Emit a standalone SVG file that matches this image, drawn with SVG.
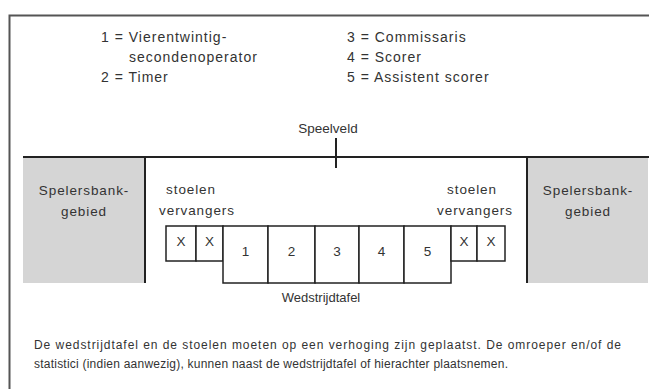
<svg xmlns="http://www.w3.org/2000/svg" width="649" height="389" viewBox="0 0 649 389">
<style>
text{font-family:"Liberation Sans",Arial,sans-serif;fill:#333;}
.t{font-size:14px;letter-spacing:1px;}
.s{font-size:13.5px;letter-spacing:0.9px;}
.n{font-size:13.5px;text-anchor:middle;}
.m{text-anchor:middle;}
.nt{font-size:12px;}
.ln{stroke:#222;stroke-width:2;fill:none;}
.box{stroke:#222;stroke-width:1.5;fill:#fff;}
.bank{fill:#d5d5d5;}
</style>
<rect x="0" y="0" width="649" height="389" fill="#fff"/>
<g id="frame">
<path d="M9.5 389 V15.5 H649" stroke="#555" stroke-width="2" fill="none"/>
</g>
<g id="legend">
<text class="t" x="101" y="42">1 = Vierentwintig-</text>
<text class="t" x="129" y="62">secondenoperator</text>
<text class="t" x="101" y="82">2 = Timer</text>
<text class="t" x="347" y="42">3 = Commissaris</text>
<text class="t" x="347" y="62">4 = Scorer</text>
<text class="t" x="347" y="82">5 = Assistent scorer</text>
</g>
<g id="speelveld">
<text class="m" x="328" y="133" style="font-size:13.5px">Speelveld</text>
</g>
<g id="bank-left">
<rect class="bank" x="23" y="158" width="122" height="125"/>
<text class="s m" x="84" y="195">Spelersbank-</text>
<text class="s m" x="84" y="216">gebied</text>
</g>
<g id="bank-right">
<rect class="bank" x="527" y="158" width="121" height="125"/>
<text class="s m" x="588" y="195">Spelersbank-</text>
<text class="s m" x="588" y="216">gebied</text>
</g>
<g id="connectors">
<line class="ln" x1="23" y1="157" x2="649" y2="157"/>
<line class="ln" x1="145" y1="157" x2="145" y2="283"/>
<line class="ln" x1="527" y1="157" x2="527" y2="283"/>
<line class="ln" x1="336" y1="138" x2="336" y2="168" stroke-width="1.5"/>
</g>
<g id="stoelen-left">
<text class="s m" x="191" y="194">stoelen</text>
<text class="s m" x="197" y="215">vervangers</text>
</g>
<g id="stoelen-right">
<text class="s m" x="472" y="194">stoelen</text>
<text class="s m" x="475" y="215">vervangers</text>
</g>
<g id="chair-l1"><rect class="box" x="166" y="226" width="30" height="35"/><text class="n" x="181" y="246">X</text></g>
<g id="chair-l2"><rect class="box" x="196" y="226" width="27" height="35"/><text class="n" x="209.5" y="246">X</text></g>
<g id="seat-1"><rect class="box" x="223" y="226" width="45" height="57"/><text class="n" x="245.5" y="256">1</text></g>
<g id="seat-2"><rect class="box" x="268" y="226" width="47" height="57"/><text class="n" x="291.5" y="256">2</text></g>
<g id="seat-3"><rect class="box" x="315" y="226" width="44" height="57"/><text class="n" x="337" y="256">3</text></g>
<g id="seat-4"><rect class="box" x="359" y="226" width="45" height="57"/><text class="n" x="381.5" y="256">4</text></g>
<g id="seat-5"><rect class="box" x="404" y="226" width="47" height="57"/><text class="n" x="427.5" y="256">5</text></g>
<g id="chair-r1"><rect class="box" x="451" y="226" width="26" height="35"/><text class="n" x="464" y="246">X</text></g>
<g id="chair-r2"><rect class="box" x="477" y="226" width="28" height="35"/><text class="n" x="491" y="246">X</text></g>
<g id="wedstrijdtafel">
<text class="m" x="321" y="302" style="font-size:13px">Wedstrijdtafel</text>
</g>
<g id="note">
<text class="nt" x="34" y="349" textLength="587">De wedstrijdtafel en de stoelen moeten op een verhoging zijn geplaatst. De omroeper en/of de</text>
<text class="nt" x="34" y="368" textLength="474">statistici (indien aanwezig), kunnen naast de wedstrijdtafel of hierachter plaatsnemen.</text>
</g>
</svg>
